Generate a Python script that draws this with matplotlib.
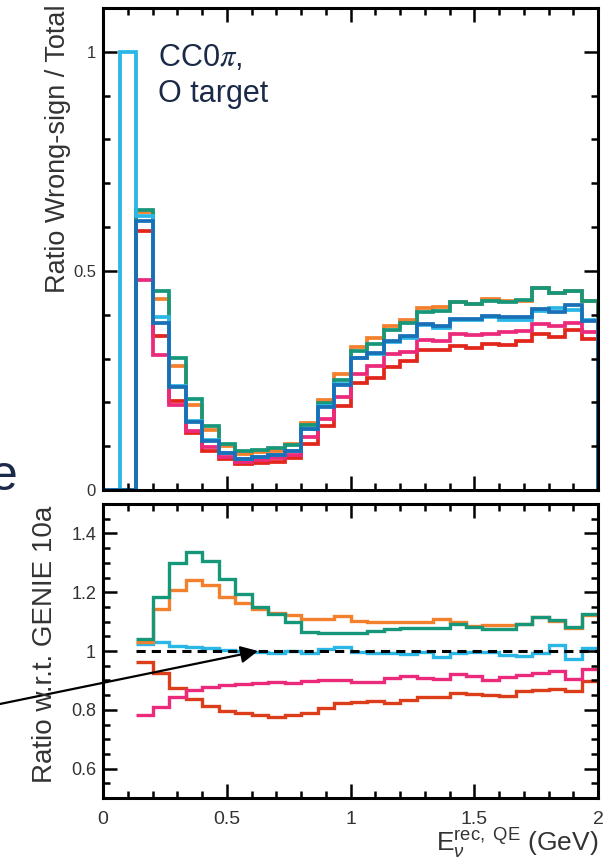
import numpy as np
import matplotlib
matplotlib.use("Agg")
from matplotlib import pyplot as plt

plt.rcParams['font.family'] = ['Liberation Sans', 'DejaVu Sans']
plt.rcParams['mathtext.fontset'] = 'custom'
plt.rcParams['mathtext.rm'] = 'Liberation Sans'
plt.rcParams['mathtext.it'] = 'Liberation Sans:italic'
plt.rcParams['mathtext.sf'] = 'Liberation Sans'

# 30 bins of E_rec from 0 to 2 GeV
edges = np.linspace(0, 2, 31)

# wrong-sign fraction, bins 0..29
cyan = [0, 1.0, 0.625, 0.395, 0.238, 0.158, 0.113, 0.085, 0.071, 0.076, 0.079, 0.088, 0.139, 0.192, 0.243,
        0.301, 0.311, 0.338, 0.348, 0.376, 0.369, 0.388, 0.389, 0.394, 0.389, 0.388, 0.409, 0.415, 0.411, 0.389]
blue = [0, 0, 0.615, 0.382, 0.235, 0.155, 0.112, 0.084, 0.071, 0.076, 0.080, 0.088, 0.139, 0.189, 0.239,
        0.301, 0.313, 0.340, 0.351, 0.378, 0.374, 0.390, 0.390, 0.397, 0.394, 0.394, 0.412, 0.407, 0.422, 0.385]
green = [0, 0, 0.638, 0.455, 0.302, 0.208, 0.147, 0.106, 0.089, 0.092, 0.096, 0.102, 0.148, 0.198, 0.252,
         0.317, 0.334, 0.365, 0.380, 0.407, 0.409, 0.428, 0.424, 0.432, 0.428, 0.433, 0.460, 0.449, 0.455, 0.431]
orange = [0, 0, 0.635, 0.436, 0.282, 0.193, 0.137, 0.101, 0.083, 0.087, 0.090, 0.105, 0.154, 0.206, 0.264,
          0.326, 0.346, 0.374, 0.388, 0.416, 0.417, 0.428, 0.424, 0.435, 0.432, 0.431, 0.460, 0.449, 0.455, 0.432]
pink = [0, 0, 0.479, 0.309, 0.195, 0.135, 0.097, 0.076, 0.065, 0.069, 0.072, 0.079, 0.121, 0.162, 0.212,
        0.264, 0.282, 0.310, 0.315, 0.342, 0.340, 0.357, 0.354, 0.357, 0.361, 0.363, 0.378, 0.375, 0.380, 0.361]
red = [0, 0, 0.592, 0.352, 0.204, 0.130, 0.090, 0.070, 0.059, 0.061, 0.064, 0.073, 0.106, 0.147, 0.191,
       0.244, 0.255, 0.281, 0.294, 0.320, 0.319, 0.329, 0.325, 0.334, 0.330, 0.340, 0.357, 0.349, 0.365, 0.344]

# ratio w.r.t. GENIE 10a, bins 2..29
r_green = [1.040, 1.185, 1.298, 1.338, 1.306, 1.245, 1.194, 1.149, 1.126, 1.100, 1.064, 1.060, 1.060, 1.062,
           1.068, 1.074, 1.079, 1.077, 1.077, 1.092, 1.083, 1.075, 1.075, 1.091, 1.115, 1.106, 1.081, 1.125]
r_orange = [1.030, 1.142, 1.208, 1.242, 1.225, 1.183, 1.162, 1.143, 1.128, 1.123, 1.109, 1.109, 1.119, 1.103,
            1.100, 1.100, 1.100, 1.100, 1.108, 1.100, 1.085, 1.089, 1.089, 1.092, 1.115, 1.103, 1.077, 1.123]
r_cyan = [1.023, 1.030, 1.018, 1.015, 1.011, 1.003, 1.000, 0.998, 0.994, 1.000, 0.994, 1.006, 1.015, 0.998,
          0.992, 0.994, 0.990, 0.998, 0.981, 0.994, 0.998, 0.998, 0.986, 0.984, 0.992, 1.020, 0.972, 1.009]
r_pink = [0.784, 0.810, 0.842, 0.867, 0.876, 0.884, 0.888, 0.890, 0.896, 0.892, 0.898, 0.900, 0.902, 0.896,
          0.896, 0.907, 0.915, 0.907, 0.904, 0.922, 0.915, 0.901, 0.913, 0.918, 0.924, 0.932, 0.905, 0.938]
r_red = [0.964, 0.924, 0.873, 0.836, 0.814, 0.797, 0.788, 0.782, 0.776, 0.784, 0.790, 0.805, 0.822, 0.827,
         0.831, 0.824, 0.833, 0.842, 0.844, 0.856, 0.854, 0.850, 0.847, 0.865, 0.867, 0.870, 0.864, 0.899]

c_cyan = '#2ab7e6'
c_blue = '#1a70b6'
c_green = '#17977a'
c_orange = '#f2802c'
c_pink = '#ec2a7c'
c_red = '#e2261c'
c_red2 = '#dc3e1c'
txt = '#333333'
navy = '#1b2a48'

W, H = 608, 865
fig = plt.figure(figsize=(W / 100, H / 100), dpi=100)

def box(l, t, r, b):
    return [l / W, 1 - b / H, (r - l) / W, (b - t) / H]

ax1 = fig.add_axes(box(103, 8, 598, 490))
ax2 = fig.add_axes(box(103, 504, 598, 798))

for vals, col in [(red, c_red), (pink, c_pink), (orange, c_orange), (green, c_green), (cyan, c_cyan), (blue, c_blue)]:
    ax1.stairs(vals, edges, color=col, lw=2.7)

e2 = edges[2:]
ax2.hlines(1, e2[0], 2, colors='black', linestyles=(0, (3, 2)), lw=2.2, zorder=3)
for vals, col in [(r_red, c_red2), (r_pink, c_pink), (r_cyan, c_cyan), (r_orange, c_orange), (r_green, c_green)]:
    ax2.stairs(vals, e2, color=col, lw=2.4, baseline=None)

ax1.set_xlim(0, 2)
ax1.set_ylim(0, 1.1)
ax1.set_yticks([0, 0.5, 1])
ax1.set_yticklabels(['0', '0.5', '1'])
ax1.set_yticks(np.arange(0, 1.11, 0.1), minor=True)
ax1.set_xticks([0, 0.5, 1, 1.5, 2])
ax1.set_xticks(np.arange(0, 2.01, 0.1), minor=True)
ax1.tick_params(labelbottom=False)

ax2.set_xlim(0, 2)
ax2.set_ylim(0.5, 1.5)
ax2.set_yticks([0.6, 0.8, 1, 1.2, 1.4])
ax2.set_yticklabels(['0.6', '0.8', '1', '1.2', '1.4'])
ax2.set_yticks(np.arange(0.5, 1.51, 0.05), minor=True)
ax2.set_xticks([0, 0.5, 1, 1.5, 2])
ax2.set_xticklabels(['0', '0.5', '1', '1.5', '2'])
ax2.set_xticks(np.arange(0, 2.01, 0.1), minor=True)

for ax in (ax1, ax2):
    for s in ax.spines.values():
        s.set_linewidth(2.2)
    ax.tick_params(which='both', direction='in', top=True, right=True, width=1.8, labelcolor=txt)
    ax.tick_params(which='major', length=10, pad=5)
    ax.tick_params(which='minor', length=5)
ax1.tick_params(axis='y', labelsize=12)
ax2.tick_params(axis='y', labelsize=13)
ax2.tick_params(axis='x', labelsize=14, pad=9)

ax1.text(0.222, 0.968, r'CC0$\pi$,', fontsize=22, color=navy, math_fontfamily='stix')
ax1.text(0.222, 0.885, 'O target', fontsize=22, color=navy)

fig.text(58 / W, 1 - 4 / H, 'Ratio Wrong-sign / Total', rotation=90, ha='center', va='top',
         fontsize=19.5, color=txt)
fig.text(45 / W, 1 - 506 / H, 'Ratio w.r.t. GENIE 10a', rotation=90, ha='center', va='top',
         fontsize=20, color=txt)
fig.text(598 / W, 4 / H, r'$\mathrm{E}_{\nu}^{\mathrm{rec,\ QE}}$ (GeV)', ha='right', va='bottom',
         fontsize=19, color=txt)

# slide fragments around the plot
fig.text(18 / W, 1 - 490 / H, 'e', ha='right', va='baseline', fontsize=36, color=navy)
fig.add_artist(matplotlib.patches.FancyArrowPatch(
    (-5 / W, 1 - 705 / H), (258 / W, 1 - 651 / H), transform=fig.transFigure,
    arrowstyle='-|>', mutation_scale=26, lw=1.6, color='black', shrinkA=0, shrinkB=0))

fig.savefig('out.png', dpi=100)
